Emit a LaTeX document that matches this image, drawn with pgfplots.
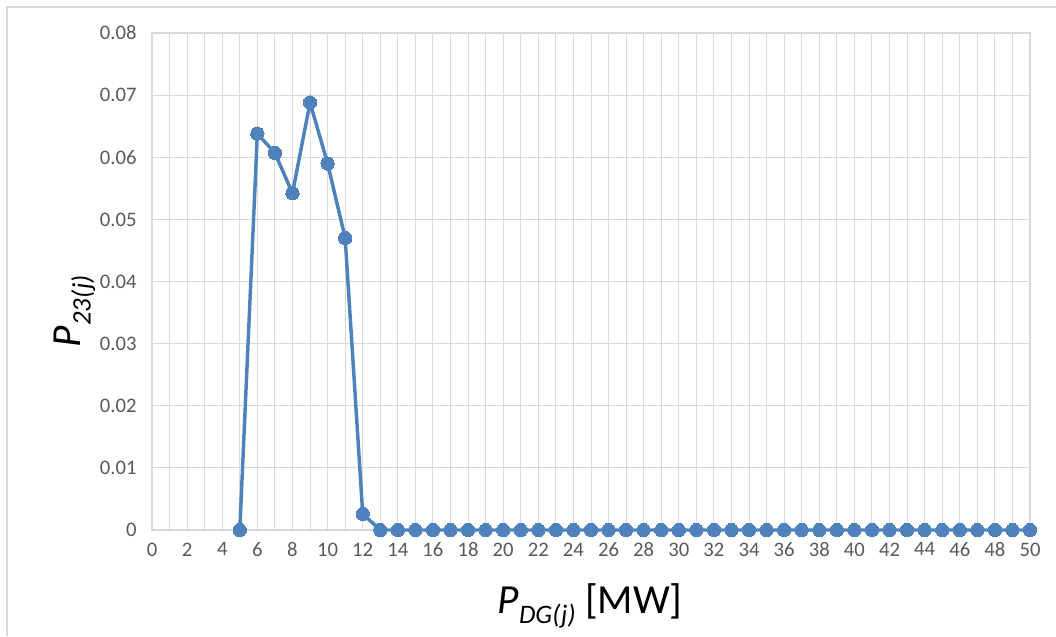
\documentclass[border=0pt]{standalone}
\usepackage{fontspec}
\setmainfont{Carlito}
\usepackage{pgfplots}
\pgfplotsset{compat=1.18}
\definecolor{serblue}{HTML}{4F81BD}
\definecolor{gridc}{HTML}{D9D9D9}
\definecolor{tickc}{HTML}{595959}
\begin{document}
\begin{tikzpicture}
\useasboundingbox (-114pt,-79.5pt) rectangle (678pt,397.5pt);
\draw[gridc,line width=1.3pt] (-108.75pt,-79.5pt) -- (-108.75pt,392.25pt) -- (678pt,392.25pt);
\begin{axis}[
  at={(0,0)}, anchor=south west,
  scale only axis, width=658.5pt, height=372.75pt,
  xmin=0, xmax=50, ymin=0, ymax=0.08,
  scaled y ticks=false, scaled x ticks=false,
  xtick={0,2,...,50},
  minor xtick={1,3,...,49},
  xticklabels={0,2,4,6,8,10,12,14,16,18,20,22,24,26,28,30,32,34,36,38,40,42,44,46,48,50},
  ytick={0,0.01,0.02,0.03,0.04,0.05,0.06,0.07,0.08},
  yticklabels={0,0.01,0.02,0.03,0.04,0.05,0.06,0.07,0.08},
  grid=both,
  major grid style={gridc,line width=0.75pt},
  minor grid style={gridc,line width=0.75pt},
  major tick length=0pt, minor tick length=0pt,
  axis line style={draw=gridc,line width=0.9pt},
  tick label style={font=\fontsize{15.5}{18}\selectfont, text=tickc},
  xticklabel style={yshift=-6pt},
  yticklabel style={xshift=-8pt},
  clip=false,
  xlabel={\fontsize{31}{36}\selectfont\textit{P}\raisebox{-7.5pt}{\fontsize{20}{24}\selectfont\textit{DG(j)}} [MW]},
  xlabel style={at={(axis description cs:0.499,-0.1522)}, anchor=center},
  ylabel={\fontsize{31}{36}\selectfont\textit{P}\raisebox{-7.5pt}{\fontsize{20}{24}\selectfont\textit{23(j)}}},
  ylabel style={at={(axis description cs:-0.088,0.44)}, anchor=center},
]
\addplot[color=serblue, line width=2.6pt, mark=*, mark size=5pt, mark options={fill=serblue, draw=serblue, line width=0pt}]
coordinates {
(5,0) (6,0.0638) (7,0.0607) (8,0.0542) (9,0.0688) (10,0.0590) (11,0.0470) (12,0.0026)
(13,0) (14,0) (15,0) (16,0) (17,0) (18,0) (19,0) (20,0) (21,0) (22,0) (23,0) (24,0)
(25,0) (26,0) (27,0) (28,0) (29,0) (30,0) (31,0) (32,0) (33,0) (34,0) (35,0) (36,0)
(37,0) (38,0) (39,0) (40,0) (41,0) (42,0) (43,0) (44,0) (45,0) (46,0) (47,0) (48,0)
(49,0) (50,0)
};
\end{axis}
\end{tikzpicture}
\end{document}
